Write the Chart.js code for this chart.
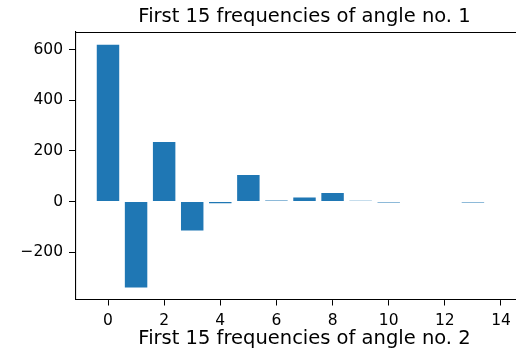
<!DOCTYPE html>
<html>
<head>
<meta charset="utf-8">
<script src="https://cdn.jsdelivr.net/npm/chart.js@4/dist/chart.umd.min.js"></script>
<style>
  html, body { margin: 0; padding: 0; background: #fff; overflow: hidden; }
  #wrap { width: 516px; height: 348px; overflow: hidden; }
  #wrap div { width: 560px; height: 348px; }
</style>
</head>
<body>
<div id="wrap"><div><canvas id="freqChart" width="560" height="348"></canvas></div></div>
<script>
const freqIndex = [0, 1, 2, 3, 4, 5, 6, 7, 8, 9, 10, 11, 12, 13, 14];
const amplitude = [621, -340, 236, -115, -7, 105, 4, 16, 34, 3, -4, 0, 0, -4, 0];
const xTicks = [0, 2, 4, 6, 8, 10, 12, 14];
const yTicks = [-200, 0, 200, 400, 600];
const titleTop = "First 15 frequencies of angle no. 1";
const titleNext = "First 15 frequencies of angle no. 2";

const FONT = "DejaVu Sans";

// top spine + the two subplot titles
const frame = {
  id: "frame",
  afterDraw(chart) {
    const { ctx, chartArea: a } = chart;
    ctx.save();
    ctx.strokeStyle = "#000";
    ctx.lineWidth = 1;
    ctx.beginPath();
    ctx.moveTo(a.left, Math.round(a.top) + 0.5);
    ctx.lineTo(a.right, Math.round(a.top) + 0.5);
    ctx.stroke();
    ctx.fillStyle = "#000";
    ctx.font = `19.5px "${FONT}"`;
    ctx.textAlign = "center";
    ctx.textBaseline = "alphabetic";
    const cx = (a.left + a.right) / 2;
    ctx.fillText(titleTop, cx, 21.7);
    ctx.fillText(titleNext, cx, 344);
    ctx.restore();
  }
};

new Chart(document.getElementById("freqChart"), {
  type: "bar",
  data: {
    datasets: [{
      data: freqIndex.map((x, i) => ({ x, y: amplitude[i] })),
      backgroundColor: "#1f77b4",
      borderWidth: 0,
      barPercentage: 0.8,
      categoryPercentage: 1.0,
    }],
  },
  options: {
    responsive: false,
    animation: false,
    layout: { padding: { left: 0, top: 32, right: 27, bottom: 0 } },
    plugins: { legend: { display: false }, tooltip: { enabled: false }, title: { display: false } },
    scales: {
      x: {
        type: "linear",
        min: -1.14,
        max: 15.14,
        offset: false,
        afterFit: s => { s.height = 48.5; },
        afterBuildTicks: s => { s.ticks = xTicks.map(v => ({ value: v })); },
        grid: { offset: false, drawOnChartArea: false, drawTicks: true, tickLength: 6, tickColor: "#000", tickWidth: 1 },
        border: { display: true, color: "#000", width: 1.1 },
        ticks: { color: "#000", font: { family: FONT, size: 15.5 }, padding: 6, maxRotation: 0, autoSkip: false },
      },
      y: {
        min: -388,
        max: 671,
        afterFit: s => { s.width = 76; },
        afterBuildTicks: s => { s.ticks = yTicks.map(v => ({ value: v })); },
        grid: { drawOnChartArea: false, drawTicks: true, tickLength: 7, tickColor: "#000", tickWidth: 1 },
        border: { display: true, color: "#000", width: 1.1 },
        ticks: {
          color: "#000",
          font: { family: FONT, size: 15.5 },
          padding: 6,
          callback: v => (v < 0 ? "\u2212" + Math.abs(v) : String(v)),
        },
      },
    },
  },
  plugins: [frame],
});
</script>
</body>
</html>
